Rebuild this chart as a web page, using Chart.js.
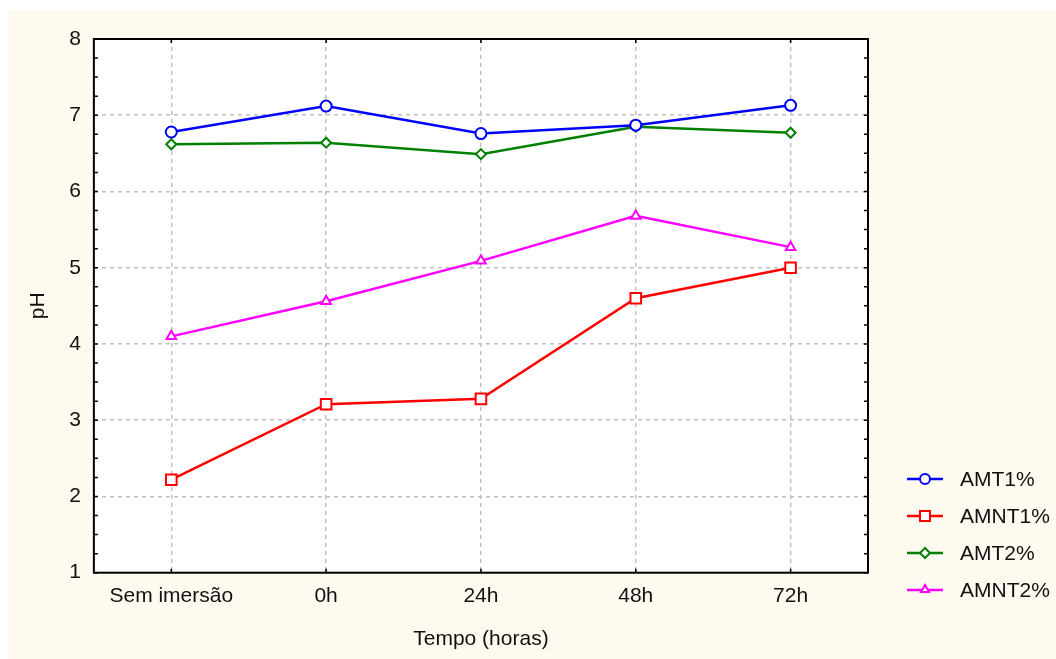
<!DOCTYPE html>
<html>
<head>
<meta charset="utf-8">
<script src="https://cdn.jsdelivr.net/npm/chart.js@4.4.1/dist/chart.umd.min.js"></script>
<style>
  html, body { margin: 0; padding: 0; background: #ffffff; }
  .wrap { position: relative; width: 1056px; height: 659px; }
  canvas { position: absolute; left: 0; top: 0; }
  .legend { position: absolute; left: 907px; top: 460px; font-family: 'Liberation Sans', Arial, sans-serif; font-size: 21px; color: #111; }
  .legend-item { display: flex; align-items: center; height: 37px; }
  .legend-item svg { margin-right: 17px; }
</style>
</head>
<body>
<div class="wrap">
  <canvas id="phChart" width="1056" height="659"></canvas>
  <div class="legend" id="legend"></div>
</div>
<script>
const categories = ['Sem imersão', '0h', '24h', '48h', '72h'];
const amt1 = [6.78, 7.12, 6.76, 6.87, 7.13];
const amnt1 = [2.22, 3.21, 3.28, 4.60, 5.00];
const amt2 = [6.62, 6.64, 6.49, 6.85, 6.77];
const amnt2 = [4.10, 4.56, 5.09, 5.68, 5.27];
const yTicks = [1, 2, 3, 4, 5, 6, 7, 8];

const fontFamily = "'Liberation Sans', Arial, sans-serif";

const series = [
  { label: 'AMT1%', data: amt1, color: '#0000ff', pointStyle: 'circle', radius: 5.5 },
  { label: 'AMNT1%', data: amnt1, color: '#ff0000', pointStyle: 'rect', radius: 7.5 },
  { label: 'AMT2%', data: amt2, color: '#008000', pointStyle: 'rectRot', radius: 5 },
  { label: 'AMNT2%', data: amnt2, color: '#ff00ff', pointStyle: 'triangle', radius: 5.5 }
];

const frame = {
  id: 'frame',
  beforeDraw(chart) {
    const { ctx, chartArea: a } = chart;
    ctx.save();
    ctx.fillStyle = '#fffaf0';
    ctx.fillRect(8, 10, chart.width - 8, chart.height - 10);
    ctx.fillStyle = '#ffffff';
    ctx.fillRect(a.left, a.top, a.right - a.left, a.bottom - a.top);
    ctx.restore();
  },
  afterDraw(chart) {
    const { ctx, chartArea: a, scales } = chart;
    ctx.save();
    ctx.strokeStyle = '#000';
    ctx.lineWidth = 1.5;
    // small inward ticks every 0.25 on left/right axes
    for (let v = 1; v <= 8; v += 0.25) {
      const y = scales.y.getPixelForValue(v);
      ctx.beginPath();
      ctx.moveTo(a.left, y); ctx.lineTo(a.left + 4, y);
      ctx.moveTo(a.right, y); ctx.lineTo(a.right - 4, y);
      ctx.stroke();
    }
    categories.forEach((c, i) => {
      const x = scales.x.getPixelForValue(i);
      ctx.beginPath();
      ctx.moveTo(x, a.top); ctx.lineTo(x, a.top + 4);
      ctx.moveTo(x, a.bottom); ctx.lineTo(x, a.bottom - 4);
      ctx.stroke();
    });
    ctx.lineWidth = 2;
    ctx.strokeRect(a.left, a.top, a.right - a.left, a.bottom - a.top);
    ctx.restore();
  }
};

new Chart(document.getElementById('phChart'), {
  type: 'line',
  data: {
    labels: categories,
    datasets: series.map((s) => ({
      label: s.label,
      data: s.data,
      borderColor: s.color,
      backgroundColor: '#ffffff',
      borderWidth: 2.5,
      pointStyle: s.pointStyle,
      pointRadius: s.radius,
      pointBorderColor: s.color,
      pointBackgroundColor: '#ffffff',
      pointBorderWidth: 2,
      tension: 0
    }))
  },
  options: {
    responsive: false,
    animation: false,
    layout: { padding: { left: 26, top: 39, right: 188, bottom: 7.4 } },
    plugins: {
      legend: { display: false },
      tooltip: { enabled: false }
    },
    scales: {
      x: {
        type: 'category',
        offset: true,
        grid: { offset: false, color: '#c0c0c0', lineWidth: 1.5, drawTicks: false },
        border: { display: false, dash: [4, 4] },
        ticks: { color: '#111', font: { family: fontFamily, size: 21 }, padding: 10.5, maxRotation: 0 },
        title: { display: true, text: 'Tempo (horas)', color: '#111', font: { family: fontFamily, size: 21 }, padding: { top: 7.5, bottom: 0 } }
      },
      y: {
        min: 1,
        max: 8,
        afterBuildTicks: (scale) => { scale.ticks = yTicks.map((v) => ({ value: v })); },
        grid: { color: '#c0c0c0', lineWidth: 1.5, drawTicks: false },
        border: { display: false, dash: [4, 4] },
        ticks: { color: '#111', font: { family: fontFamily, size: 21 }, padding: 13 },
        title: { display: true, text: 'pH', color: '#111', font: { family: fontFamily, size: 21 }, padding: { top: 0, bottom: 5 } }
      }
    }
  },
  plugins: [frame]
});

// legend: line with marker
const legend = document.getElementById('legend');
const markerSvg = {
  circle: (c) => `<circle cx="18" cy="8" r="5" fill="#fff" stroke="${c}" stroke-width="2"/>`,
  rect: (c) => `<rect x="13" y="3" width="10" height="10" fill="#fff" stroke="${c}" stroke-width="2"/>`,
  rectRot: (c) => `<polygon points="18,3 23,8 18,13 13,8" fill="#fff" stroke="${c}" stroke-width="2"/>`,
  triangle: (c) => `<polygon points="18,3 22,10 14,10" fill="#fff" stroke="${c}" stroke-width="2"/>`
};
series.forEach((s) => {
  const item = document.createElement('div');
  item.className = 'legend-item';
  item.innerHTML = `<svg width="36" height="16"><line x1="0" y1="8" x2="36" y2="8" stroke="${s.color}" stroke-width="2.5"/>${markerSvg[s.pointStyle](s.color)}</svg><span>${s.label}</span>`;
  legend.appendChild(item);
});
</script>
</body>
</html>
